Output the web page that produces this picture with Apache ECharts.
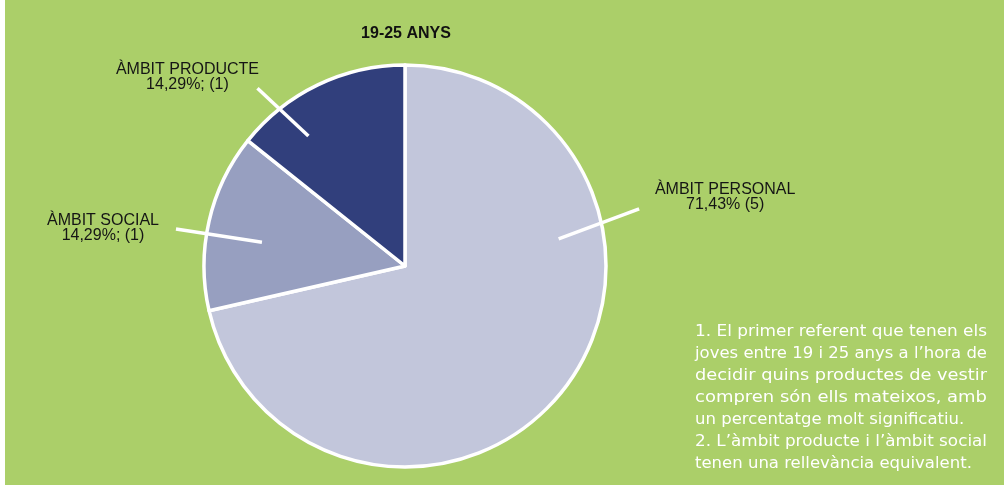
<!DOCTYPE html>
<html>
<head>
<meta charset="utf-8">
<script src="https://cdn.jsdelivr.net/npm/echarts@6/dist/echarts.min.js"></script>
<style>
  html, body { margin: 0; padding: 0; background: #ffffff; }
  #chart { width: 1004px; height: 487px; }
</style>
</head>
<body>
<div id="chart"></div>
<script>
// Referents when choosing clothes, 19-25 age group
const chartTitle = '19-25 ANYS';
const categories = ['ÀMBIT PERSONAL', 'ÀMBIT SOCIAL', 'ÀMBIT PRODUCTE'];
const counts = [5, 1, 1];
const labelSeparators = [' ', '; ', '; '];
const sliceColors = ['#c2c6db', '#979fc0', '#313f7c'];
const notes = [
  ['1. El primer referent que tenen els',
   'joves entre 19 i 25 anys a l’hora de',
   'decidir quins productes de vestir',
   'compren són ells mateixos, amb',
   'un percentatge molt significatiu.'],
  ['2. L’àmbit producte i l’àmbit social',
   'tenen una rellevància equivalent.']
];

// Pie geometry
const CX = 405, CY = 266, R = 201;
// Leader lines: polar endpoints (degrees clockwise from 12 o'clock) and label offset from the outer end
const leaderGeom = [
  { a0: 80.0,  r0: 156, a1: 76.3,  r1: 241, ox: 86,  oy: -12 },
  { a0: 279.4, r0: 145, a1: 279.2, r1: 232, ox: -73, oy: -1 },
  { a0: 323.4, r0: 162, a1: 320.3, r1: 231, ox: -70, oy: -11 }
];
function polar(a, r) {
  const t = a * Math.PI / 180;
  return [CX + r * Math.sin(t), CY - r * Math.cos(t)];
}

const total = counts.reduce((s, v) => s + v, 0);
function pctText(v) {
  return (v / total * 100).toFixed(2).replace('.', ',') + '%';
}

// Notes block: justified lines stretched to the column width
const NOTE_X = 695, NOTE_W = 292, NOTE_TOP = 323, NOTE_LH = 22;
const NOTE_FONT = '16.5px "DejaVu Sans"';
const measureCtx = document.createElement('canvas').getContext('2d');
measureCtx.font = NOTE_FONT;
const noteElements = [];
let lineNo = 0;
notes.forEach(par => {
  par.forEach((line, i) => {
    const last = i === par.length - 1;
    const w = measureCtx.measureText(line).width;
    noteElements.push({
      type: 'text',
      x: NOTE_X,
      y: NOTE_TOP + lineNo * NOTE_LH,
      scaleX: last ? 1 : NOTE_W / w,
      z: 10,
      style: {
        text: line,
        fill: '#ffffff',
        font: NOTE_FONT,
        align: 'left',
        verticalAlign: 'top'
      }
    });
    lineNo++;
  });
});

const sliceData = categories.map((name, i) => ({
  name: name,
  value: counts[i],
  itemStyle: { color: sliceColors[i] }
}));
const labelData = categories.map((name, i) => ({ name: name, value: counts[i] }));

const pieBase = {
  type: 'pie',
  center: [CX, CY],
  radius: R,
  startAngle: 90,
  clockwise: true,
  emphasis: { disabled: true }
};

const chart = echarts.init(document.getElementById('chart'));
chart.setOption({
  backgroundColor: '#ffffff',
  animation: false,
  title: {
    text: chartTitle,
    left: CX - 4,
    top: 21,
    textAlign: 'center',
    textStyle: {
      fontFamily: '"Liberation Sans", Arial, sans-serif',
      fontSize: 16,
      fontWeight: 'bold',
      color: '#111111'
    }
  },
  graphic: [
    {
      type: 'rect',
      z: -10,
      silent: true,
      shape: { x: 5, y: 0, width: 999, height: 485 },
      style: { fill: '#abcf69' }
    }
  ].concat(noteElements),
  series: [
    // Slices
    Object.assign({}, pieBase, {
      z: 2,
      data: sliceData,
      itemStyle: { borderColor: '#ffffff', borderWidth: 3.5 },
      label: { show: false },
      labelLine: { show: false }
    }),
    // Transparent copy carrying labels and leader lines above the slices
    Object.assign({}, pieBase, {
      z: 4,
      silent: true,
      avoidLabelOverlap: false,
      data: labelData,
      itemStyle: { color: 'rgba(0,0,0,0)', borderWidth: 0 },
      label: {
        show: true,
        position: 'outside',
        formatter: p => p.name + '\n' + pctText(p.value) + labelSeparators[p.dataIndex] + '(' + p.value + ')',
        fontFamily: '"Liberation Sans", Arial, sans-serif',
        fontSize: 16,
        lineHeight: 15,
        color: '#151515',
        align: 'center'
      },
      labelLine: {
        show: true,
        smooth: false,
        lineStyle: { color: '#ffffff', width: 3.5 }
      },
      labelLayout: function (params) {
        const g = leaderGeom[params.dataIndex];
        const p0 = polar(g.a0, g.r0);
        const p1 = polar(g.a1, g.r1);
        return {
          x: p1[0] + g.ox,
          y: p1[1] + g.oy,
          align: 'center',
          verticalAlign: 'middle',
          labelLinePoints: [p0, p1, p1]
        };
      }
    })
  ]
});
</script>
</body>
</html>
